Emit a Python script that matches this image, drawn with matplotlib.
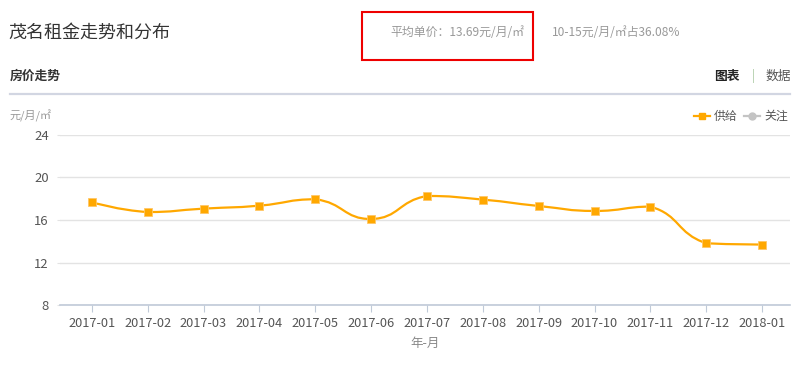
import matplotlib
matplotlib.use("Agg")
import matplotlib.pyplot as plt
from matplotlib.path import Path
from matplotlib.patches import PathPatch, Rectangle
from matplotlib.lines import Line2D

plt.rcParams['font.family'] = ['Noto Sans CJK SC', 'DejaVu Sans']

# data
months = ['2017-01', '2017-02', '2017-03', '2017-04', '2017-05', '2017-06', '2017-07',
          '2017-08', '2017-09', '2017-10', '2017-11', '2017-12', '2018-01']
supply = [17.67, 16.75, 17.07, 17.35, 17.95, 16.09, 18.26,
          17.92, 17.32, 16.85, 17.26, 13.81, 13.69]
y_ticks = [8, 12, 16, 20, 24]

W, H = 808, 367
fig = plt.figure(figsize=(W / 100, H / 100), dpi=100)


def fx(x):
    return x / W


def fy(y):
    return 1 - y / H


def clamp(v, a, b):
    return max(min(a, b), min(max(a, b), v))


# plot area: x 60..790, y 135..305 (pixels)
ax = fig.add_axes([fx(60), fy(305), (790 - 60) / W, (305 - 135) / H])
ax.set_xlim(-0.57, 12.5)
ax.set_ylim(8, 24)

orange = '#ffa800'

# smooth curve like echarts 5 (smooth=0.5, control points kept inside each segment)
kx, ky = 55.8, 10.6
n = len(supply)
pts = [(i, v) for i, v in enumerate(supply)]
cps = []
for i in range(n):
    p = pts[i]
    if i == 0 or i == n - 1:
        cps.append((p, p))
        continue
    prev, nxt = pts[i - 1], pts[i + 1]
    vx, vy = (nxt[0] - prev[0]) * 0.5, (nxt[1] - prev[1]) * 0.5
    d0 = ((p[0] - prev[0]) ** 2 * kx ** 2 + (p[1] - prev[1]) ** 2 * ky ** 2) ** 0.5
    d1 = ((p[0] - nxt[0]) ** 2 * kx ** 2 + (p[1] - nxt[1]) ** 2 * ky ** 2) ** 0.5
    s = d0 + d1
    r0, r1 = d0 / s, d1 / s
    cin = (clamp(p[0] - vx * r0, prev[0], p[0]), clamp(p[1] - vy * r0, prev[1], p[1]))
    cout = (clamp(p[0] + vx * r1, p[0], nxt[0]), clamp(p[1] + vy * r1, p[1], nxt[1]))
    cps.append((cin, cout))

verts = [pts[0]]
codes = [Path.MOVETO]
for i in range(n - 1):
    verts += [cps[i][1], cps[i + 1][0], pts[i + 1]]
    codes += [Path.CURVE4] * 3
ax.add_patch(PathPatch(Path(verts, codes), facecolor='none', edgecolor=orange,
                       lw=1.6, zorder=3))
ax.plot(range(n), supply, ls='none', marker='s', ms=5.5, color=orange,
        mec='#ffc766', mew=0.6, zorder=4)

# grid and axes
ax.set_yticks(y_ticks)
ax.set_yticklabels([str(t) for t in y_ticks], fontsize=9.4, color='#555555')
ax.yaxis.grid(True, color='#e3e3e3', lw=1)
ax.set_axisbelow(True)
ax.set_xticks(range(n))
ax.set_xticklabels(months, fontsize=9.2, color='#555555')
for side in ['top', 'right', 'left']:
    ax.spines[side].set_visible(False)
ax.spines['bottom'].set_color('#c0cad8')
ax.spines['bottom'].set_linewidth(1.2)
ax.tick_params(axis='x', length=5, color='#c0cad8', pad=3.5)
ax.tick_params(axis='y', length=2, color='#e3e3e3', pad=6)
ax.set_xlabel('年-月', fontsize=9, color='#888888', labelpad=5)

# header texts
fig.text(fx(8), fy(33), '茂名租金走势和分布', fontsize=13, color='#333333', va='center')
fig.text(fx(390), fy(33), '平均单价：13.69元/月/㎡', fontsize=8.6, color='#999999', va='center')
fig.text(fx(552), fy(33), '10-15元/月/㎡占36.08%', fontsize=8.6, color='#999999', va='center')
fig.add_artist(Rectangle((fx(362), fy(60)), (533 - 362) / W, 48 / H,
                         transform=fig.transFigure, fill=False, ec='#ee0000', lw=1.5))

fig.text(fx(10), fy(76), '房价走势', fontsize=9.2, color='#333333', weight='bold', va='center')
fig.text(fx(740), fy(76), '图表', fontsize=9.2, color='#222222', weight='bold', va='center', ha='right')
fig.text(fx(753), fy(76), '|', fontsize=9, color='#a8c8a0', va='center', ha='center')
fig.text(fx(766), fy(76), '数据', fontsize=9.2, color='#555555', va='center')
fig.add_artist(Line2D([fx(10), fx(790)], [fy(94), fy(94)], transform=fig.transFigure,
                      color='#d2d6e2', lw=1.6))

fig.text(fx(10), fy(116), '元/月/㎡', fontsize=8, color='#999999', va='center')

# legend
fig.add_artist(Line2D([fx(694), fx(710)], [fy(116), fy(116)], transform=fig.transFigure,
                      color=orange, lw=1.6))
fig.add_artist(Line2D([fx(702)], [fy(116)], transform=fig.transFigure,
                      color=orange, marker='s', ms=5, ls='none'))
fig.text(fx(714), fy(116), '供给', fontsize=8.6, color='#555555', va='center')
fig.add_artist(Line2D([fx(744), fx(760)], [fy(116), fy(116)], transform=fig.transFigure,
                      color='#c4c4c4', lw=1.6))
fig.add_artist(Line2D([fx(752)], [fy(116)], transform=fig.transFigure,
                      color='#c4c4c4', marker='o', ms=5, ls='none'))
fig.text(fx(764), fy(116), '关注', fontsize=8.6, color='#555555', va='center')

fig.savefig('out.png', dpi=100)
